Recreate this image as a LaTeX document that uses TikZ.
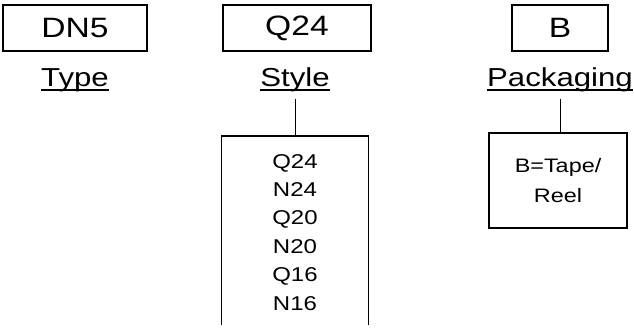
\documentclass[tikz,border=0pt]{standalone}
\usepackage{fontspec}
\setmainfont{Liberation Sans}[FakeStretch=1.2]
\usetikzlibrary{positioning}
\tikzset{
  codebox/.style={draw, line width=1.2pt, minimum height=46pt, inner sep=0pt,
                  font=\fontsize{28}{30}\selectfont},
  fieldlbl/.style={inner sep=0pt, anchor=base, font=\fontsize{26}{28}\selectfont},
  uline/.style={line width=1.3pt},
  link/.style={line width=1pt},
  listframe/.style={line width=1.2pt},
  listrow/.style={inner sep=0pt, anchor=base, font=\fontsize{20}{22}\selectfont},
  optbox/.style={draw, line width=1.2pt, align=center, inner sep=0pt,
                 font=\fontsize{19.5}{30}\selectfont},
}
\begin{document}
\begin{tikzpicture}[x=1pt, y=-1pt]
\useasboundingbox (0,0) rectangle (634,327);

% code boxes
\node[codebox, minimum width=144pt] (dn5) at (75,28) {DN5};
\node[codebox, minimum width=148pt] (q24) at (297,28) {Q24};
\node[codebox, minimum width=96pt] (bcode) at (560,28) {B};

% field names
\foreach \nm/\x/\txt in {typelbl/75/Type, stylelbl/295/Style, packlbl/560/Packaging} {
  \node[fieldlbl] (\nm) at (\x,86) {\txt};
  \draw[uline] ([yshift=-4pt]\nm.base west) -- ([yshift=-4pt]\nm.base east);
}

% style options
\node[minimum width=146pt, minimum height=189pt, inner sep=0pt, anchor=north]
  (slist) at (295,136) {};
\draw[listframe] (slist.south west) -- (slist.north west) -- (slist.north east)
  -- (slist.south east);
\foreach \t [count=\i from 0] in {Q24,N24,Q20,N20,Q16,N16}
  \node[listrow] (row\i) at (295,168+28.4*\i) {\t};
\draw[link] ([yshift=-7pt]stylelbl.south) -- (stylelbl.south |- slist.north);

% packaging options
\node[optbox, minimum width=138pt, minimum height=95pt] (reel) at (558,180.5)
  {B=Tape/\\Reel};
\draw[link] ([yshift=-7pt]packlbl.south) -- (packlbl.south |- reel.north);

\end{tikzpicture}
\end{document}
